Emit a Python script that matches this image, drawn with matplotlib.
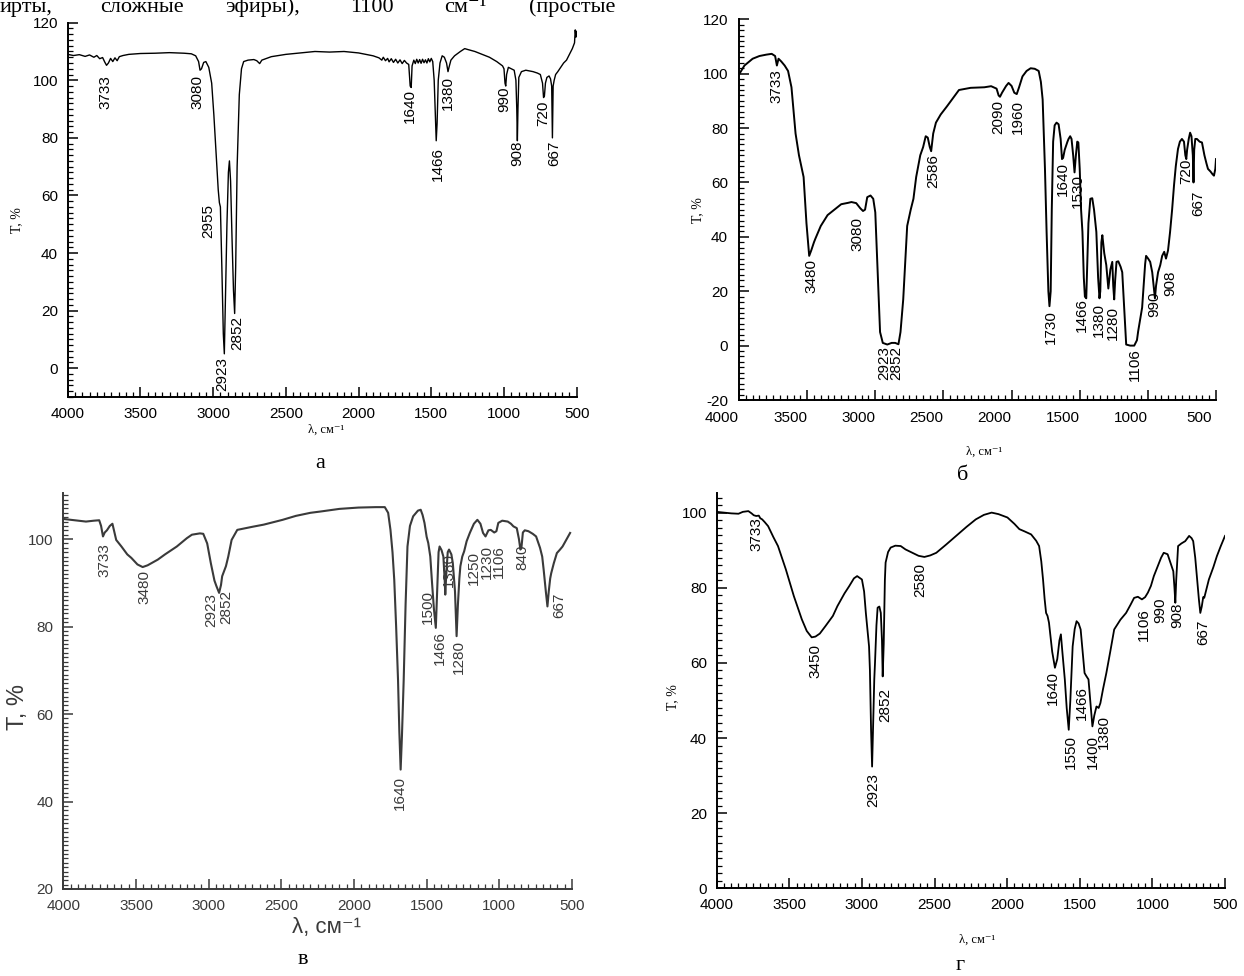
import matplotlib.pyplot as plt
import matplotlib.transforms as mtransforms
from matplotlib.ticker import MultipleLocator

plt.rcParams['font.family'] = ['Liberation Sans', 'DejaVu Sans']
plt.rcParams['axes.unicode_minus'] = False

# --- panel а ---
a_wn = [4000, 3960, 3920, 3880, 3850, 3820, 3800, 3780, 3760, 3745, 3733, 3720, 3705, 3690, 3675,
        3660, 3645, 3620, 3580, 3500, 3400, 3300, 3200, 3150, 3120, 3100, 3090, 3080, 3065, 3050,
        3030, 3010, 2995, 2980, 2965, 2957, 2950, 2940, 2930, 2923, 2915, 2905, 2895, 2888, 2880,
        2870, 2860, 2852, 2845, 2835, 2820, 2805, 2790, 2760, 2720, 2700, 2680, 2665, 2600, 2500,
        2400, 2300, 2200, 2100, 2000, 1950, 1900,
        1860, 1840, 1830, 1815, 1800, 1790, 1775, 1760, 1745, 1730, 1715, 1700, 1685, 1670, 1655,
        1645, 1638, 1632, 1620, 1610, 1600, 1590, 1580, 1570, 1560, 1550, 1540, 1530, 1520, 1510,
        1500, 1490, 1480, 1472, 1466, 1460, 1452,
        1440, 1425, 1410, 1395, 1385, 1378, 1365, 1340, 1300, 1270, 1250, 1200, 1150, 1100, 1050,
        1010, 1000, 993, 988, 982, 970, 950, 930, 918, 912, 908, 904, 898, 880, 850,
        800, 770, 750, 735, 728, 722, 715, 705, 690, 680, 672, 667, 662, 655, 645,
        630, 610, 590, 570, 550, 530, 515, 510, 505, 500]
a_t = [109.0, 108.6, 108.9, 108.3, 108.8, 108.0, 108.6, 107.5, 107.9, 106.3, 105.2, 106.0, 107.6, 106.5, 107.8,
       106.8, 108.2, 108.6, 109.0, 109.3, 109.4, 109.6, 109.4, 109.2, 108.5, 106.5, 103.5, 104.0, 106.2, 106.5,
       104.5, 99, 88, 75, 62, 57.5, 56, 35, 12, 5, 25, 50, 68, 72, 65,
       45, 27, 19, 35, 70, 95, 104, 106.5, 107, 107.2, 106.8, 105.8, 107, 108.2, 109,
       109.5, 110, 109.8, 110, 109.5, 109, 108.5,
       107.8, 107.0, 108.0, 106.8, 107.6, 106.4, 107.5, 106.2, 107.3, 106.0, 107.1, 105.8, 106.9, 106.0, 105.5,
       98, 97.5, 105, 107, 105.8, 107.3, 106.0, 107.2, 105.9, 107.3, 106.1, 107.1, 106.0, 107.5, 106.4,
       107.6, 106.5, 100, 88, 79, 85, 100,
       106, 108.5, 108, 106, 103, 104.5, 107, 108.5, 110, 111, 110.7, 110, 109, 108, 106.5,
       105, 104, 99, 98, 102, 104.5, 104, 103.5, 100, 90, 79, 90, 101, 103, 103.5,
       103, 102.5, 102, 99, 94, 94.5, 99, 101, 101.5, 100.5, 98, 80, 98, 100, 102,
       103, 104.5, 106, 107, 109, 111, 113, 117.5, 115, 117]
a_lbl = ['3733', '3080', '2955', '2923', '2852', '1640', '1466', '1380', '990', '908', '720', '667']
a_lbl_x = [3737, 3105, 3034, 2937, 2837, 1647, 1455, 1384, 995, 911, 731, 652]
a_lbl_y = [101.8, 101.8, 57, 4, 18, 97, 77, 101.5, 98, 79, 93, 79]

# --- panel б ---
b_wn = [4000, 3960, 3900, 3850, 3800, 3760, 3735, 3722, 3710, 3690, 3665, 3640, 3615, 3585, 3560,
        3526, 3505, 3485, 3470, 3450, 3439, 3400, 3350, 3292, 3250, 3200, 3175, 3140, 3110, 3090,
        3075, 3059, 3035, 3015, 3000, 2985, 2965, 2945, 2912, 2880, 2854, 2830, 2815, 2795, 2766,
        2740, 2720, 2700, 2670, 2649, 2630, 2615, 2600, 2590, 2575, 2555, 2520, 2474, 2430, 2386,
        2300, 2200, 2150, 2110, 2095, 2085, 2070, 2040, 2022, 2000, 1980, 1962, 1945, 1920, 1890,
        1860, 1830, 1801, 1785, 1772, 1755, 1743, 1730, 1722, 1713, 1705, 1695, 1684, 1670, 1655,
        1640, 1630, 1622, 1610, 1590, 1582, 1570, 1560, 1548, 1538, 1528, 1518, 1510, 1500, 1490,
        1480, 1470, 1462, 1452, 1445, 1436, 1422, 1408, 1395, 1378, 1365, 1355, 1349, 1341, 1334,
        1320, 1305, 1290, 1275, 1261, 1254, 1247, 1240, 1230, 1217, 1200, 1188, 1175, 1159, 1130,
        1100, 1080, 1071, 1042, 1020, 1013, 998, 983, 968, 954, 948, 940, 925, 909, 895,
        880, 867, 852, 837, 822, 808, 795, 779, 765, 750, 735, 725, 718, 712, 700,
        690, 680, 670, 665, 660, 652, 640, 620, 603, 585, 570, 559, 540, 525, 515,
        505, 500]
b_t = [99.7, 103, 105.5, 106.5, 107, 107.3, 106.5, 103, 105.5, 104.5, 103, 101, 95, 78, 70,
       62, 45, 33, 35, 38, 39.4, 44, 48, 50.3, 52, 52.5, 52.8, 52.4, 50.5, 49.5,
       50, 54.6, 55.2, 54, 49, 30, 5, 1, 0.4, 1, 1, 0.5, 5, 17, 44,
       50, 54, 62, 70, 73, 77, 76.5, 73, 71.5, 78, 82, 85, 88, 91, 94,
       94.8, 95, 95.4, 94.5, 92, 91.5, 93, 95.5, 96.6, 95.5, 93, 92.5, 95, 99, 101,
       102, 101.8, 101, 97, 90.5, 65, 41.8, 20, 14.5, 20, 50, 75, 81, 82, 81.4,
       76, 68.6, 69, 72, 75, 76, 77, 76, 70, 63.7, 70, 75, 74.7, 65, 50,
       41.8, 25, 18, 17.4, 30, 45, 54, 54.2, 50, 41.8, 25, 17.4, 20, 38, 40.6,
       34, 29.6, 21, 28, 30.8, 22, 17, 24, 30.8, 31, 29, 27, 15, 0.4, 0,
       0, 2, 5.3, 14, 30, 33, 32, 30.8, 27, 20, 17.4, 22, 27, 29.6, 33,
       34.5, 32, 35, 41.8, 50, 59, 66, 72.3, 75, 76, 75, 70, 68.6, 72, 76,
       78.3, 77, 70, 60, 72, 76, 76, 75, 74.7, 70, 67, 65, 64, 63, 62.5,
       65, 68.6]
b_lbl = ['3733', '3480', '3080', '2923', '2852', '2586', '2090', '1960', '1640', '1530',
         '1730', '1466', '1380', '1280', '1106', '990', '908', '720', '667']
b_lbl_x = [3722, 3468, 3132, 2936, 2845, 2576, 2099, 1953, 1622, 1517,
           1708, 1485, 1363, 1260, 1093, 953, 836, 719, 631]
b_lbl_y = [101.5, 32, 47.3, -0.2, -0.2, 70.4, 90.5, 90.5, 67.4, 63,
           13.2, 17.4, 15.6, 14.4, -0.8, 20, 27.8, 68.6, 57]

# --- panel в ---
c_wn = [4000, 3844, 3790, 3753, 3740, 3727, 3715, 3700, 3680, 3662, 3648, 3636, 3600, 3560, 3532,
        3490, 3454, 3420, 3350, 3300, 3219, 3150, 3115, 3060, 3037, 3010, 2985, 2960, 2946, 2928,
        2915, 2907, 2881, 2865, 2842, 2803, 2700, 2621, 2491, 2400, 2300, 2230, 2100, 1970, 1850,
        1788, 1765, 1749, 1735, 1723, 1710, 1697, 1688, 1679, 1670, 1658, 1645, 1632, 1615, 1593,
        1560, 1541, 1528, 1515, 1500, 1489, 1475, 1463, 1450, 1437, 1428, 1418, 1411, 1398, 1385,
        1375, 1372, 1365, 1355, 1346, 1330, 1320, 1305, 1294, 1285, 1275, 1268, 1255, 1242, 1225,
        1203, 1175, 1151, 1130, 1112, 1095, 1075, 1059, 1035, 1020, 1007, 980, 942, 920, 903,
        880, 865, 855, 848, 838, 825, 800, 770, 747, 720, 705, 695, 680, 669, 660,
        650, 643, 625, 604, 585, 565, 540, 513]
c_t = [104.6, 104, 104.2, 104.3, 103, 100.6, 101.5, 102, 103, 103.5, 101.5, 99.8, 98.3, 96.5, 95.7,
       94.2, 93.6, 94, 95.3, 96.5, 98.3, 100.2, 101, 101.3, 101.2, 99, 94.5, 90.5, 89.2, 87.7,
       89.5, 91.5, 93.8, 96, 99.8, 102.1, 102.8, 103.3, 104.4, 105.3, 106, 106.3, 106.9, 107.2, 107.3,
       107.3, 106, 102.1, 97, 90.7, 80, 67.8, 56, 47.3, 55, 67.8, 85, 98.3, 103, 105.2,
       106.5, 106.7, 105.5, 103.7, 100.5, 99.1, 96, 90, 84, 79.7, 88, 97, 98.3, 97.5, 96,
       90, 87.3, 92, 97, 97.6, 96.5, 94.5, 88, 77.8, 85, 91, 93.8, 96, 97.2, 99.5,
       101.4, 103.5, 104.4, 103.5, 101.4, 100.6, 102, 102.1, 101.5, 101.8, 103.7, 104.2, 104, 103.5, 102.9,
       102.5, 100, 97.6, 98, 101.5, 102, 101.8, 101.2, 100.6, 98, 96, 93, 88, 84.6, 88,
       91, 92.2, 94.5, 96.8, 97.5, 98.3, 99.8, 101.4]
c_lbl = ['3733', '3480', '2923', '2852', '1640', '1500', '1466', '1380', '1280', '1250',
         '1230', '1106', '840', '667']
c_lbl_x = [3714, 3441, 2985, 2881, 1684, 1489, 1411, 1346, 1281, 1177, 1086, 1002, 839, 591]
c_lbl_y = [99.1, 93, 87.7, 88.4, 45.8, 88.4, 78.9, 96.8, 77, 97.2, 98.7, 98.7, 98.7, 87.7]

# --- panel г ---
d_wn = [4000, 3950, 3900, 3850, 3820, 3782, 3760, 3745, 3728, 3710, 3700, 3687, 3670, 3646, 3610,
        3578, 3524, 3469, 3414, 3380, 3346, 3320, 3290, 3251, 3200, 3169, 3120, 3088, 3055, 3033,
        3000, 2985, 2973, 2960, 2951, 2945, 2937, 2930, 2922, 2915, 2910, 2900, 2892, 2880, 2870,
        2862, 2857, 2850, 2842, 2837, 2820, 2802, 2770, 2733, 2700, 2652, 2610, 2570, 2530, 2488,
        2420, 2352, 2280, 2216, 2160, 2107, 2060, 1998, 1950, 1916, 1880, 1835, 1800, 1780, 1765,
        1753, 1742, 1732, 1722, 1712, 1690, 1671, 1655, 1640, 1630, 1620, 1603, 1590, 1576, 1565,
        1549, 1535, 1522, 1508, 1494, 1480, 1467, 1455, 1440, 1428, 1413, 1400, 1385, 1370, 1358,
        1340, 1317, 1290, 1263, 1220, 1181, 1150, 1126, 1100, 1072, 1050, 1031, 1010, 990, 960,
        940, 922, 900, 895, 870, 856, 848, 842, 836, 823, 800, 774, 747, 730, 719,
        705, 692, 680, 670, 660, 650, 643, 625, 611, 580, 556, 530, 500]
d_t = [100.2, 100, 99.8, 99.7, 100.2, 100.4, 99.8, 99.3, 99.1, 99.2, 98.5, 98.2, 97.5, 96.4, 93.5,
       91.1, 84.9, 77.8, 71.6, 68.5, 66.8, 67, 67.8, 69.8, 72.5, 75.1, 78.5, 80.4, 82.5, 83.1,
       82.2, 79, 73.3, 68, 64.4, 58, 42, 32.4, 45, 55.6, 60, 70, 74.7, 75, 73.3,
       66, 56.4, 65, 82, 86.7, 89.5, 90.7, 91.2, 91.1, 90.2, 89.3, 88.5, 88.2, 88.6, 89.3,
       91.5, 93.8, 96.2, 98.2, 99.4, 100, 99.6, 98.7, 97, 95.6, 95, 94.2, 92.5, 91.1, 87,
       82.2, 77, 73.3, 72.5, 70.7, 63, 58.7, 61, 66, 67.6, 63, 55.6, 48, 42.2, 50,
       64.4, 69, 71.1, 70.5, 68.9, 63, 57.3, 56.5, 55.6, 50, 43.1, 46, 48.4, 48, 49.3,
       53, 57.3, 63, 68.9, 71.5, 73.3, 75.5, 77.3, 77.6, 76.9, 77.5, 78.7, 80.5, 83.1, 86,
       88, 89.3, 89, 88.9, 86, 84.4, 80, 76, 82, 91.1, 91.8, 92.4, 93.8, 93.2, 92.4,
       88, 82.2, 77, 73.3, 75, 77.5, 77.3, 80, 82.2, 85.5, 88.4, 91, 93.8]
d_lbl = ['3733', '3450', '2923', '2852', '2580', '1640', '1550', '1466', '1400', '1380',
         '1106', '990', '908', '667']
d_lbl_x = [3728, 3319, 2924, 2842, 2597, 1685, 1562, 1486, 1412, 1331, 1058, 949, 827, 650]
d_lbl_y = [98.7, 64.9, 30.7, 53.3, 86.7, 57.8, 40.9, 53.8, 40.9, 46.2, 74.7, 77.3, 76, 71.6]

W, H = 1244, 976
fig = plt.figure(figsize=(W / 100, H / 100), dpi=100)

serif = ['Liberation Serif', 'DejaVu Serif']


def box(l, t, r, b):
    return [l / W, 1 - b / H, (r - l) / W, (b - t) / H]


def panel(rect, wn, t, ylim, yminor, lbl, lbl_x, lbl_y, color='black', lw=1.1, pad=7):
    ax = fig.add_axes(rect)
    ax.plot(wn, t, color=color, lw=lw)
    ax.set_xlim(4000, 500)
    ax.set_ylim(*ylim)
    ax.xaxis.set_major_locator(MultipleLocator(500))
    ax.xaxis.set_minor_locator(MultipleLocator(50))
    ax.yaxis.set_major_locator(MultipleLocator(20))
    ax.yaxis.set_minor_locator(MultipleLocator(yminor))
    ax.spines[['top', 'right']].set_visible(False)
    for s in ['left', 'bottom']:
        ax.spines[s].set_linewidth(1.4)
        ax.spines[s].set_color(color)
    ax.tick_params(which='both', direction='in', color=color, labelcolor=color,
                   labelsize=11, pad=pad)
    ax.tick_params(which='major', length=7, width=1.1)
    ax.tick_params(which='minor', length=3.5, width=0.9)
    ax.patch.set_visible(False)
    for s, x, y in zip(lbl, lbl_x, lbl_y):
        ax.text(x, y, s, rotation=90, ha='center', va='top', fontsize=11, color=color)
    return ax


ax_a = panel(box(67.7, 22.7, 576.7, 397), a_wn, a_t, (-10, 120), 2, a_lbl, a_lbl_x, a_lbl_y, lw=1.0)
ax_b = panel(box(739, 19.3, 1216, 400), b_wn, b_t, (-20, 120), 2, b_lbl, b_lbl_x, b_lbl_y, lw=1.4, pad=8)
ax_c = panel(box(63.3, 492.7, 572, 889), c_wn, c_t, (20, 110.6), 1, c_lbl, c_lbl_x, c_lbl_y,
             color='#3a3a3a', lw=1.5)
ax_d = panel(box(716.7, 492.7, 1225, 888.3), d_wn, d_t, (0, 105.3), 2, d_lbl, d_lbl_x, d_lbl_y, lw=1.3)

# x tick labels of panel б sit a bit left of their ticks in the original
shift = mtransforms.ScaledTranslation(-17 / 100, 0, fig.dpi_scale_trans)
for label in ax_b.get_xticklabels():
    label.set_transform(label.get_transform() + shift)

# axis titles
fig.text(17 / W, 1 - 220 / H, 'T, %', rotation=90, ha='center', va='center', fontsize=10, family=serif)
fig.text(326 / W, 1 - 430 / H, 'λ, см⁻¹', ha='center', va='center', fontsize=9, family=serif)
fig.text(698 / W, 1 - 210 / H, 'T, %', rotation=90, ha='center', va='center', fontsize=10, family=serif)
fig.text(984 / W, 1 - 452 / H, 'λ, см⁻¹', ha='center', va='center', fontsize=9, family=serif)
fig.text(18 / W, 1 - 707 / H, 'T, %', rotation=90, ha='center', va='center', fontsize=17, color='#3a3a3a')
fig.text(327 / W, 1 - 928 / H, 'λ, см⁻¹', ha='center', va='center', fontsize=16, color='#3a3a3a')
fig.text(673 / W, 1 - 697 / H, 'T, %', rotation=90, ha='center', va='center', fontsize=10, family=serif)
fig.text(977 / W, 1 - 940 / H, 'λ, см⁻¹', ha='center', va='center', fontsize=9, family=serif)

# panel letters
for s, x, y in [('а', 320, 464), ('б', 963, 476), ('в', 303, 960), ('г', 960, 966)]:
    fig.text(x / W, 1 - y / H, s, ha='center', va='center', fontsize=16, family=serif)

# clipped line of body text at the very top
for s, x in [('ирты,', 0), ('сложные', 100), ('эфиры),', 225), ('1100', 350), ('см⁻¹', 444), ('(простые', 529)]:
    fig.text(x / W, 1 - 12 / H, s, ha='left', va='baseline', fontsize=16, family=serif)

fig.savefig('out.png', dpi=100)
